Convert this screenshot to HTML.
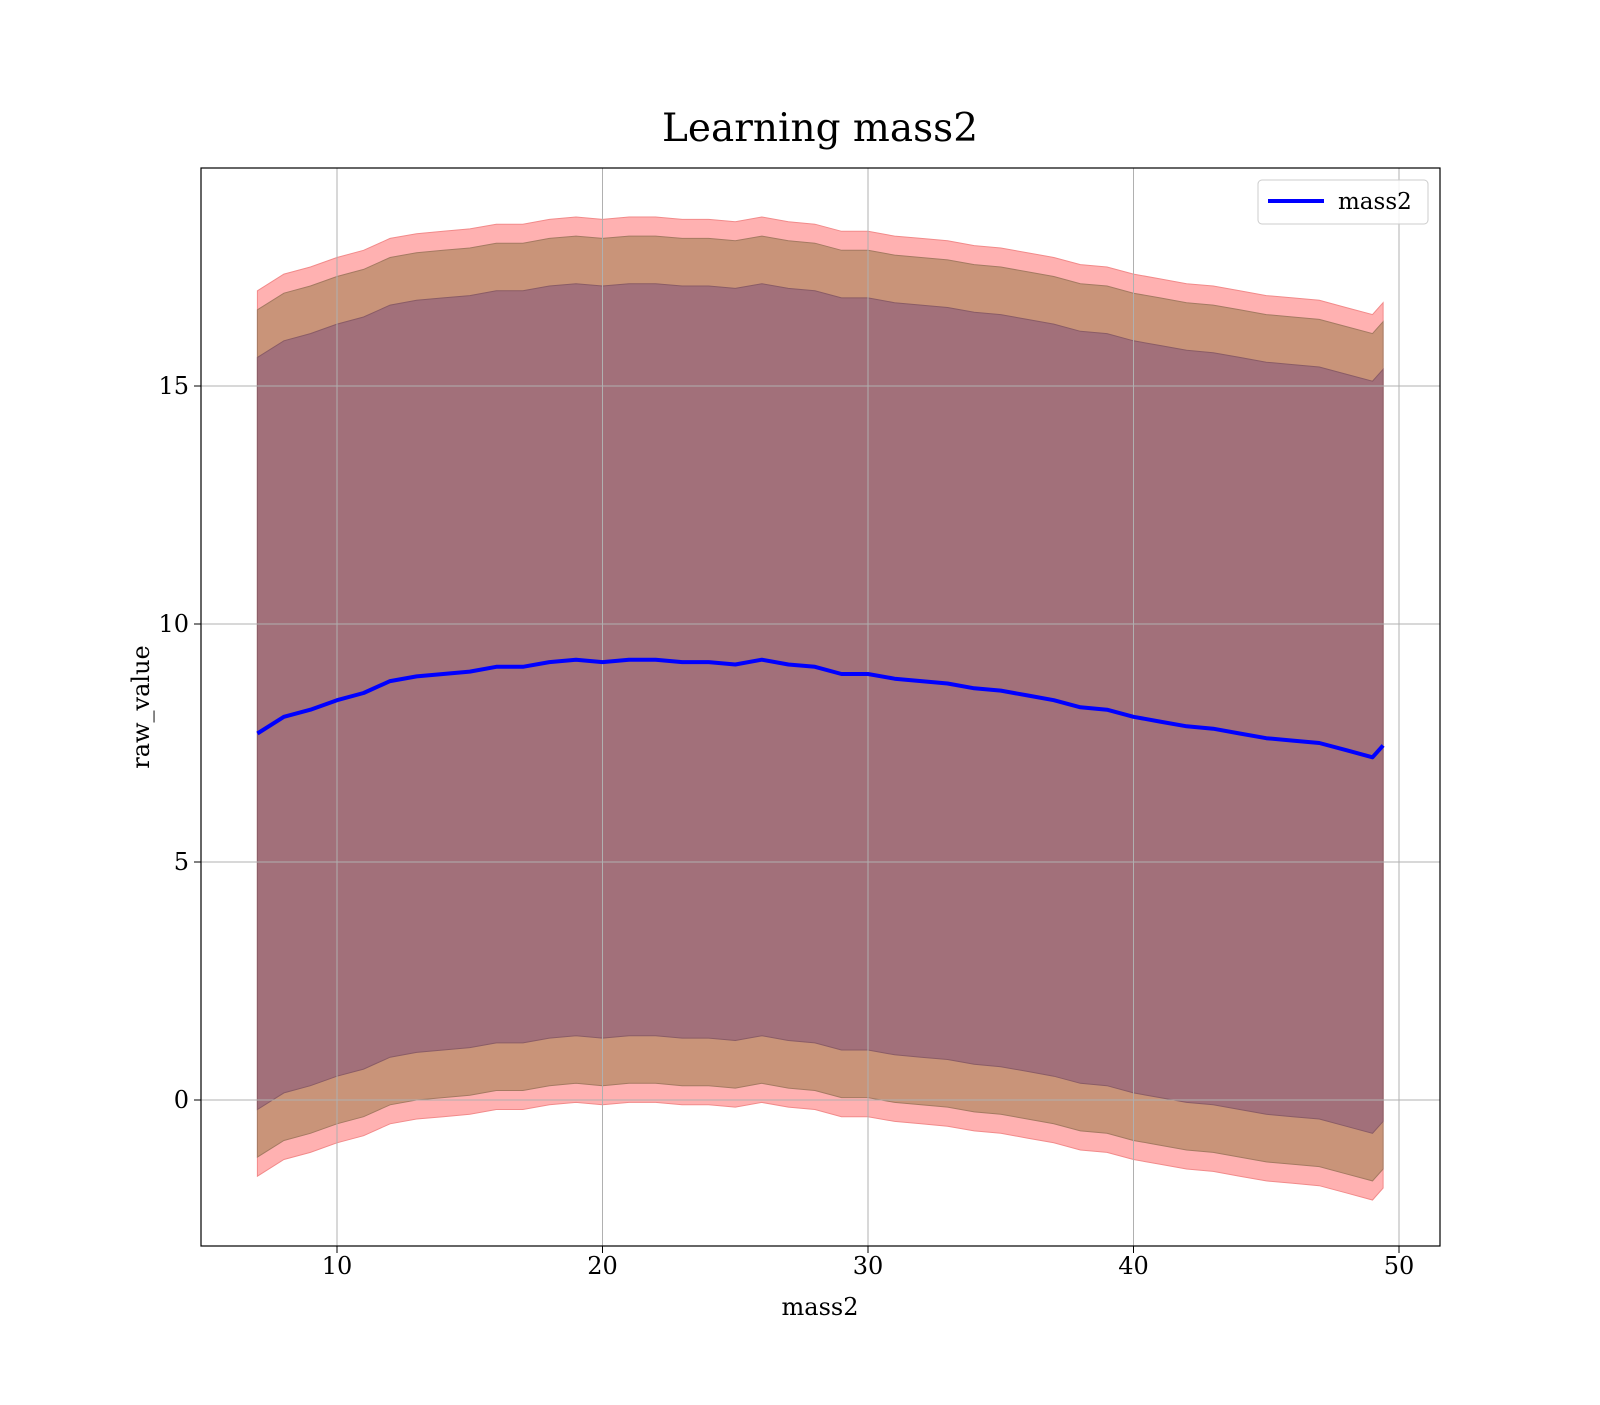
<!DOCTYPE html>
<html><head><meta charset="utf-8"><style>
body{margin:0;background:#fff}
svg text{font-family:"DejaVu Serif","Liberation Serif",serif;fill:#000}
</style></head><body>
<svg id="chart" width="1600" height="1400" xmlns="http://www.w3.org/2000/svg">
<rect width="1600" height="1400" fill="#fff"/>
<text x="820" y="141" font-size="39" text-anchor="middle">Learning mass2</text>
<g id="bands"></g>
<g id="grid"></g>
<g id="line"></g>
<rect x="201" y="168" width="1239" height="1078" fill="none" stroke="#000" stroke-width="1.2"/>
<g id="ticks"></g>
<text x="820" y="1315" font-size="24" text-anchor="middle">mass2</text>
<text x="149" y="707" font-size="24" text-anchor="middle" transform="rotate(-90 149 707)">raw_value</text>
<g>
<rect x="1258" y="180" width="170" height="44" rx="4" fill="#fff" fill-opacity="0.85" stroke="#ccc"/>
<line x1="1268" y1="201" x2="1324" y2="201" stroke="#0000ff" stroke-width="4"/>
<text x="1338" y="209" font-size="23">mass2</text>
</g>
</svg>
<script>
const xs = [7,8,9,10,11,12,13,14,15,16,17,18,19,20,21,22,23,24,25,26,27,28,29,30,31,32,33,34,35,36,37,38,39,40,41,42,43,44,45,46,47,48,49,49.4];
const means = [7.7,8.05,8.2,8.4,8.55,8.8,8.9,8.95,9.0,9.1,9.1,9.2,9.25,9.2,9.25,9.25,9.2,9.2,9.15,9.25,9.15,9.1,8.95,8.95,8.85,8.8,8.75,8.65,8.6,8.5,8.4,8.25,8.2,8.05,7.95,7.85,7.8,7.7,7.6,7.55,7.5,7.35,7.2,7.45];
const bandWidths = [9.3, 8.9, 7.9];
const bandColors = ["#ffb1b1","#c99479","#a2707a"];
const bandEdges = ["#f28a8a","#a57a62","#8a5c66"];
const xTicks = [10,20,30,40,50];
const yTicks = [0,5,10,15];
const NS="http://www.w3.org/2000/svg";
const X = v => 337 + (v-10)*26.55;
const Y = v => 1100 - v*47.6;
function mk(tag, attrs, parent){const e=document.createElementNS(NS,tag);for(const k in attrs)e.setAttribute(k,attrs[k]);parent.appendChild(e);return e;}
const bands=document.getElementById('bands');
bandWidths.forEach((w,i)=>{
  let d='M'+xs.map((x,j)=>X(x).toFixed(1)+','+Y(means[j]+w).toFixed(1)).join('L');
  for(let j=xs.length-1;j>=0;j--) d+='L'+X(xs[j]).toFixed(1)+','+Y(means[j]-w).toFixed(1);
  d+='Z';
  const p=mk('path',{d:d,fill:bandColors[i],stroke:bandEdges[i],'stroke-width':1},bands);
  
  
});
const grid=document.getElementById('grid'), ticks=document.getElementById('ticks');
xTicks.forEach(t=>{
  const l=mk('line',{x1:X(t),x2:X(t),y1:168,y2:1246,stroke:'#b0b0b0','stroke-width':1},grid);
  
  
  mk('line',{x1:X(t),x2:X(t),y1:1246,y2:1253,stroke:'#000'},ticks);
  const tx=mk('text',{x:X(t),y:1274,'font-size':24,'text-anchor':'middle'},ticks);
  tx.textContent=t;
  
  
});
yTicks.forEach(t=>{
  const l=mk('line',{x1:201,x2:1440,y1:Y(t),y2:Y(t),stroke:'#b0b0b0','stroke-width':1},grid);
  
  
  mk('line',{x1:194,x2:201,y1:Y(t),y2:Y(t),stroke:'#000'},ticks);
  const tx=mk('text',{x:189,y:Y(t)+8,'font-size':24,'text-anchor':'end'},ticks);
  tx.textContent=t;
  
  
});
const ln=mk('polyline',{points:xs.map((x,j)=>X(x).toFixed(1)+','+Y(means[j]).toFixed(1)).join(' '),fill:'none',stroke:'#0000ff','stroke-width':4,'stroke-linejoin':'round'},document.getElementById('line'));


</script>
</body></html>
